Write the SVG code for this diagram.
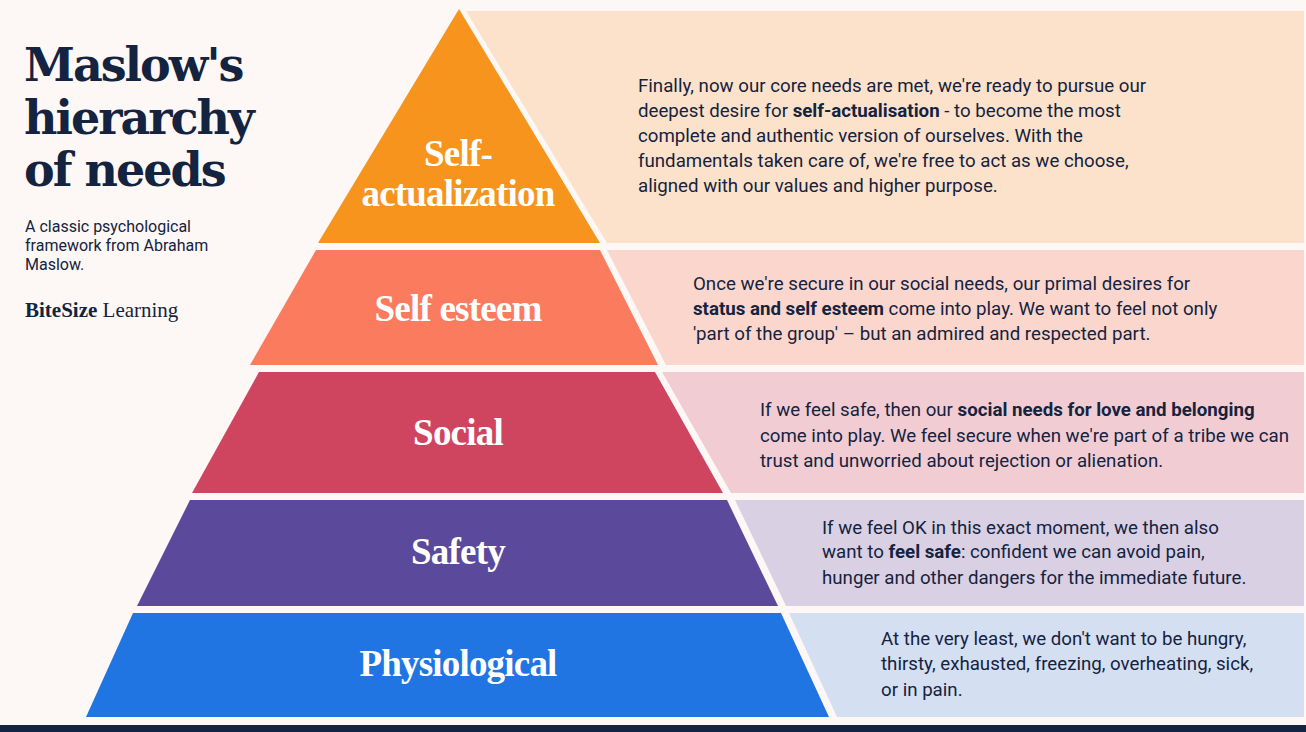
<svg xmlns="http://www.w3.org/2000/svg" width="1306" height="732" viewBox="0 0 1306 732">
<style>
.b{font-family:Roboto,"Noto Sans",sans-serif;font-size:18.7px;fill:#14233f}
.s{font-family:Roboto,"Noto Sans",sans-serif;font-size:16px;fill:#14233f}
.b tspan.k{font-weight:bold}
.t{font-family:"DejaVu Serif","Liberation Serif",serif;font-weight:bold;fill:#14233f;font-size:46px;letter-spacing:-2px}
.l{font-family:"Liberation Serif",serif;font-weight:bold;fill:#fff;font-size:37px;text-anchor:middle;letter-spacing:-0.8px}
</style>
<rect width="1306" height="732" fill="#fdf8f5"/>
<rect x="0" y="725" width="1306" height="7" fill="#14233f"/>
<g id="title">
<text class="t" x="24" y="81">Maslow's</text>
<text class="t" x="24" y="134">hierarchy</text>
<text class="t" x="24" y="186">of needs</text>
<text class="s" x="25" y="232">A classic psychological</text>
<text class="s" x="25" y="251">framework from Abraham</text>
<text class="s" x="25" y="270">Maslow.</text>
<text x="25" y="317" style="font-family:'Liberation Serif',serif;font-size:21px;fill:#14233f"><tspan font-weight="bold">BiteSize</tspan> Learning</text>
</g>
<g id="panels">
<polygon points="466,11 1304,11 1304,243 607,243" fill="#fce2ca"/>
<polygon points="607,250 1304,250 1304,365 666,365" fill="#fbd6cc"/>
<polygon points="662,372 1304,372 1304,493 731,493" fill="#f1cdd3"/>
<polygon points="735,500 1304,500 1304,606 786,606" fill="#dad0e3"/>
<polygon points="789,613 1304,613 1304,717 837,717" fill="#d5dff2"/>
</g>
<g id="tier1">
<polygon points="459,9 600,243 318,243" fill="#f7941d"/>
<text class="l" x="458" y="166">Self-</text>
<text class="l" x="458" y="206">actualization</text>
<text class="b" x="638" y="92">Finally, now our core needs are met, we're ready to pursue our</text>
<text class="b" x="638" y="117">deepest desire for <tspan class="k">self-actualisation</tspan> - to become the most</text>
<text class="b" x="638" y="142">complete and authentic version of ourselves. With the</text>
<text class="b" x="638" y="167">fundamentals taken care of, we're free to act as we choose,</text>
<text class="b" x="638" y="192">aligned with our values and higher purpose.</text>
</g>
<g id="tier2">
<polygon points="316,250 600,250 658,365 250,365" fill="#fb7b5f"/>
<text class="l" x="458" y="321">Self esteem</text>
<text class="b" x="693" y="290">Once we're secure in our social needs, our primal desires for</text>
<text class="b" x="693" y="315"><tspan class="k">status and self esteem</tspan> come into play. We want to feel not only</text>
<text class="b" x="693" y="340">'part of the group' – but an admired and respected part.</text>
</g>
<g id="tier3">
<polygon points="259,372 655,372 723,493 192,493" fill="#cf4560"/>
<text class="l" x="458" y="445">Social</text>
<text class="b" x="760" y="416">If we feel safe, then our <tspan class="k">social needs for love and belonging</tspan></text>
<text class="b" x="760" y="442">come into play. We feel secure when we're part of a tribe we can</text>
<text class="b" x="760" y="467">trust and unworried about rejection or alienation.</text>
</g>
<g id="tier4">
<polygon points="190,500 727,500 778,606 137,606" fill="#5b4a9b"/>
<text class="l" x="458" y="564">Safety</text>
<text class="b" x="822" y="534">If we feel OK in this exact moment, we then also</text>
<text class="b" x="822" y="558">want to <tspan class="k">feel safe</tspan>: confident we can avoid pain,</text>
<text class="b" x="822" y="584">hunger and other dangers for the immediate future.</text>
</g>
<g id="tier5">
<polygon points="133,613 781,613 829,717 86,717" fill="#2075e3"/>
<text class="l" x="458" y="676">Physiological</text>
<text class="b" x="881" y="645">At the very least, we don't want to be hungry,</text>
<text class="b" x="881" y="670">thirsty, exhausted, freezing, overheating, sick,</text>
<text class="b" x="881" y="696">or in pain.</text>
</g>
<g id="connectors"/>
</svg>
